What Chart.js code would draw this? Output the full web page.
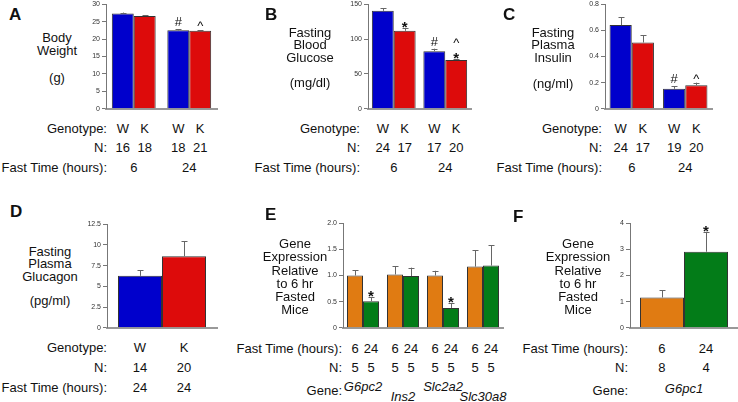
<!DOCTYPE html>
<html lang="en">
<head>
<meta charset="UTF-8" />
<script src="https://cdn.jsdelivr.net/npm/chart.js@4.4.0/dist/chart.umd.min.js"></script>
<title>Fasting panels</title>
<style>
	body { margin: 0; width: 738px; height: 402px; position: relative; overflow: hidden; background: #fff;
		font-family: "Liberation Sans", Arial, sans-serif; color: #111; }
	.t { position: absolute; font-size: 13px; line-height: 13px; white-space: nowrap; }
	.letter { position: absolute; font-size: 17px; line-height: 17px; font-weight: bold; }
	canvas { position: absolute; }
</style>
</head>
<body>
<script>
	// ---- data ----
	const fastTimes = ['6', '24'];
	const genotypes = ['W', 'K'];

	const bodyWeightW = [27.3, 22.5];
	const bodyWeightK = [26.6, 22.4];
	const bodyWeightWErr = [0.3, 0.3];
	const bodyWeightKErr = [0.3, 0.2];
	const bodyWeightNW = [16, 18];
	const bodyWeightNK = [18, 21];

	const glucoseW = [140.5, 82.7];
	const glucoseK = [111.8, 70];
	const glucoseWErr = [4, 3.5];
	const glucoseKErr = [3.5, 1.5];
	const glucoseNW = [24, 17];
	const glucoseNK = [17, 20];

	const insulinW = [0.64, 0.153];
	const insulinK = [0.507, 0.18];
	const insulinWErr = [0.06, 0.02];
	const insulinKErr = [0.055, 0.02];
	const insulinNW = [24, 19];
	const insulinNK = [17, 20];

	const glucagonW = [6.27];
	const glucagonK = [8.64];
	const glucagonWErr = [0.7];
	const glucagonKErr = [1.8];
	const glucagonN = [14, 20];
	const glucagonFast = ['24', '24'];

	const genesE = ['G6pc2', 'Ins2', 'Slc2a2', 'Slc30a8'];
	const expr6 = [1.0, 1.02, 1.0, 1.17];
	const expr24 = [0.51, 0.99, 0.38, 1.19];
	const expr6Err = [0.1, 0.16, 0.09, 0.31];
	const expr24Err = [0.07, 0.16, 0.09, 0.39];
	const exprN6 = [5, 5, 5, 5];
	const exprN24 = [5, 5, 5, 5];

	const genesF = ['G6pc1'];
	const g6pc1At6 = [1.16];
	const g6pc1At24 = [2.91];
	const g6pc1Err6 = [0.28];
	const g6pc1Err24 = [0.76];
	const g6pc1N = [8, 4];

	const BLUE = '#0000cc', RED = '#dd0b0b', ORANGE = '#e07b12', GREEN = '#037c18';

	// ---- helpers ----
	function addText(text, x, y, align, cls, extra) {
		const d = document.createElement('div');
		d.className = cls || 't';
		d.textContent = text;
		d.style.left = x + 'px';
		d.style.top = y + 'px';
		if (align === 'center') d.style.transform = 'translateX(-50%)';
		if (align === 'right') d.style.transform = 'translateX(-100%)';
		if (extra) Object.assign(d.style, extra);
		document.body.appendChild(d);
	}

	const errorBars = {
		id: 'errorBars',
		afterDatasetsDraw(chart) {
			const ctx = chart.ctx;
			const y = chart.scales.y;
			ctx.save();
			ctx.strokeStyle = '#666';
			ctx.lineWidth = 1;
			chart.data.datasets.forEach((ds, i) => {
				chart.getDatasetMeta(i).data.forEach((bar, j) => {
					const top = y.getPixelForValue(ds.data[j] + ds.err[j]);
					const x = Math.round(bar.x) + 0.5;
					ctx.beginPath();
					ctx.moveTo(x, bar.y);
					ctx.lineTo(x, top);
					ctx.moveTo(x - 3, Math.round(top) + 0.5);
					ctx.lineTo(x + 3, Math.round(top) + 0.5);
					ctx.stroke();
				});
			});
			// significance marks
			ctx.fillStyle = '#111';
			ctx.textAlign = 'center';
			ctx.textBaseline = 'alphabetic';
			(chart.options.marks || []).forEach(m => {
				const ds = chart.data.datasets[m.ds];
				const bar = chart.getDatasetMeta(m.ds).data[m.idx];
				let base = y.getPixelForValue(ds.data[m.idx] + ds.err[m.idx]);
				m.text.slice().reverse().forEach(s => {
					if (s === '*') { ctx.font = 'bold 15px "Liberation Sans", Arial'; ctx.fillText(s, bar.x, base + 4); base -= 12; }
					else if (s === '^') { ctx.font = '13px "Liberation Sans", Arial'; ctx.fillText(s, bar.x, base); base -= 12; }
					else { ctx.font = '13px "Liberation Sans", Arial'; ctx.fillText(s, bar.x, base - 3); base -= 12; }
				});
			});
			ctx.restore();
		}
	};

	function panel(cfg) {
		const AXW = 26, PT = 5, PR = 1, XH = 2;
		const a = cfg.area;
		const w = a.r - a.l + AXW + PR;
		const h = a.b - a.t + PT + XH;
		const c = document.createElement('canvas');
		c.width = w; c.height = h;
		c.style.width = w + 'px'; c.style.height = h + 'px';
		c.style.left = (a.l - AXW) + 'px';
		c.style.top = (a.t - PT) + 'px';
		document.body.appendChild(c);
		return new Chart(c, {
			type: 'bar',
			data: {
				labels: cfg.labels,
				datasets: cfg.datasets.map(d => ({
					data: d.data, err: d.err, backgroundColor: d.color,
					borderColor: '#333', borderWidth: 1,
					categoryPercentage: cfg.catPct, barPercentage: 1
				}))
			},
			options: {
				responsive: false,
				animation: false,
				marks: cfg.marks,
				layout: { padding: { top: PT, right: PR, left: 0, bottom: 0 } },
				plugins: { legend: { display: false }, tooltip: { enabled: false } },
				scales: {
					x: {
						grid: { display: false },
						ticks: { display: false },
						border: { color: '#999', width: 2 },
						afterFit: s => { s.height = XH; }
					},
					y: {
						min: 0, max: cfg.max,
						ticks: { stepSize: cfg.step, font: { size: 7, family: '"Liberation Sans", Arial' }, color: '#333', padding: 2 },
						grid: { drawOnChartArea: false, drawTicks: true, tickLength: 4, color: '#777' },
						border: { color: '#777', width: 1 },
						afterFit: s => { s.width = AXW; }
					}
				}
			},
			plugins: [errorBars]
		});
	}

	// bar centre in page coordinates
	function barX(chart, ds, idx) {
		return chart.getDatasetMeta(ds).data[idx].x + parseFloat(chart.canvas.style.left);
	}

	// ---- A: body weight ----
	const chA = panel({
		area: { l: 106, t: 3, r: 217, b: 113 }, labels: fastTimes, catPct: 0.79, max: 30, step: 5,
		datasets: [
			{ data: bodyWeightW, err: bodyWeightWErr, color: BLUE },
			{ data: bodyWeightK, err: bodyWeightKErr, color: RED }
		],
		marks: [{ ds: 0, idx: 1, text: ['#'] }, { ds: 1, idx: 1, text: ['^'] }]
	});
	// ---- B: blood glucose ----
	const chB = panel({
		area: { l: 368, t: 3, r: 471, b: 113 }, labels: fastTimes, catPct: 0.85, max: 150, step: 50,
		datasets: [
			{ data: glucoseW, err: glucoseWErr, color: BLUE },
			{ data: glucoseK, err: glucoseKErr, color: RED }
		],
		marks: [{ ds: 1, idx: 0, text: ['*'] }, { ds: 0, idx: 1, text: ['#'] }, { ds: 1, idx: 1, text: ['^', '*'] }]
	});
	// ---- C: insulin ----
	const chC = panel({
		area: { l: 605, t: 3, r: 712, b: 113 }, labels: fastTimes, catPct: 0.83, max: 0.8, step: 0.2,
		datasets: [
			{ data: insulinW, err: insulinWErr, color: BLUE },
			{ data: insulinK, err: insulinKErr, color: RED }
		],
		marks: [{ ds: 0, idx: 1, text: ['#'] }, { ds: 1, idx: 1, text: ['^'] }]
	});
	// ---- D: glucagon ----
	const chD = panel({
		area: { l: 107, t: 223, r: 217, b: 332 }, labels: [''], catPct: 0.8, max: 12.5, step: 2.5,
		datasets: [
			{ data: glucagonW, err: glucagonWErr, color: BLUE },
			{ data: glucagonK, err: glucagonKErr, color: RED }
		],
		marks: []
	});
	// ---- E: gene expression ----
	const chE = panel({
		area: { l: 343, t: 222, r: 503, b: 332 }, labels: genesE, catPct: 0.8, max: 2, step: 0.5,
		datasets: [
			{ data: expr6, err: expr6Err, color: ORANGE },
			{ data: expr24, err: expr24Err, color: GREEN }
		],
		marks: [{ ds: 1, idx: 0, text: ['*'] }, { ds: 1, idx: 2, text: ['*'] }]
	});
	// ---- F: G6pc1 ----
	const chF = panel({
		area: { l: 630, t: 222, r: 738, b: 332 }, labels: genesF, catPct: 0.815, max: 4, step: 1,
		datasets: [
			{ data: g6pc1At6, err: g6pc1Err6, color: ORANGE },
			{ data: g6pc1At24, err: g6pc1Err24, color: GREEN }
		],
		marks: [{ ds: 1, idx: 0, text: ['*'] }]
	});

	// ---- panel letters and axis titles ----
	addText('A', 9, 6, null, 'letter');
	addText('B', 265, 6, null, 'letter');
	addText('C', 503, 6, null, 'letter');
	addText('D', 10, 203, null, 'letter');
	addText('E', 265, 206, null, 'letter');
	addText('F', 513, 208, null, 'letter');

	function title(x, lines) { lines.forEach(([s, y]) => addText(s, x, y - 6.5, 'center')); }
	title(57, [['Body', 37], ['Weight', 50], ['(g)', 77]]);
	title(310, [['Fasting', 32], ['Blood', 44], ['Glucose', 57], ['(mg/dl)', 82]]);
	title(553, [['Fasting', 32], ['Plasma', 44], ['Insulin', 57], ['(ng/ml)', 83]]);
	title(50, [['Fasting', 251], ['Plasma', 263], ['Glucagon', 276], ['(pg/ml)', 300]]);
	title(295, [['Gene', 243], ['Expression', 256], ['Relative', 270], ['to 6 hr', 283], ['Fasted', 296], ['Mice', 309]]);
	title(578, [['Gene', 243], ['Expression', 256], ['Relative', 270], ['to 6 hr', 283], ['Fasted', 296], ['Mice', 309]]);

	// ---- rows under A-C ----
	function genoRows(ch, right, y0, nW, nK) {
		addText('Genotype:', right, y0 - 6.5, 'right');
		addText('N:', right, y0 + 19 - 6.5, 'right');
		addText('Fast Time (hours):', right, y0 + 39 - 6.5, 'right');
		fastTimes.forEach((f, j) => {
			addText(genotypes[0], barX(ch, 0, j), y0 - 6.5, 'center');
			addText(genotypes[1], barX(ch, 1, j), y0 - 6.5, 'center');
			addText(String(nW[j]), barX(ch, 0, j), y0 + 19 - 6.5, 'center');
			addText(String(nK[j]), barX(ch, 1, j), y0 + 19 - 6.5, 'center');
			addText(f, (barX(ch, 0, j) + barX(ch, 1, j)) / 2, y0 + 39 - 6.5, 'center');
		});
	}
	genoRows(chA, 107, 128, bodyWeightNW, bodyWeightNK);
	genoRows(chB, 360, 128, glucoseNW, glucoseNK);
	genoRows(chC, 602, 128, insulinNW, insulinNK);

	// ---- rows under D ----
	addText('Genotype:', 107, 347 - 6.5, 'right');
	addText('N:', 107, 367 - 6.5, 'right');
	addText('Fast Time (hours):', 107, 387 - 6.5, 'right');
	genotypes.forEach((g, i) => {
		const x = barX(chD, i, 0);
		addText(g, x, 347 - 6.5, 'center');
		addText(String(glucagonN[i]), x, 367 - 6.5, 'center');
		addText(glucagonFast[i], x, 387 - 6.5, 'center');
	});

	// ---- rows under E and F ----
	function geneRows(ch, right, genes, n6, n24, stagger) {
		addText('Fast Time (hours):', right, 348 - 6.5, 'right');
		addText('N:', right, 367 - 6.5, 'right');
		addText('Gene:', right, 390 - 6.5, 'right');
		genes.forEach((g, j) => {
			const x0 = barX(ch, 0, j), x1 = barX(ch, 1, j);
			addText(fastTimes[0], x0, 348 - 6.5, 'center');
			addText(fastTimes[1], x1, 348 - 6.5, 'center');
			addText(String(n6[j]), x0, 367 - 6.5, 'center');
			addText(String(n24[j]), x1, 367 - 6.5, 'center');
			const gy = stagger ? (j % 2 ? 396.5 : 386) : 388;
			addText(g, (x0 + x1) / 2, gy - 6.5, 'center', 't', { fontStyle: 'italic' });
		});
	}
	geneRows(chE, 342, genesE, exprN6, exprN24, true);
	geneRows(chF, 628, genesF, [g6pc1N[0]], [g6pc1N[1]], false);
</script>
</body>
</html>
